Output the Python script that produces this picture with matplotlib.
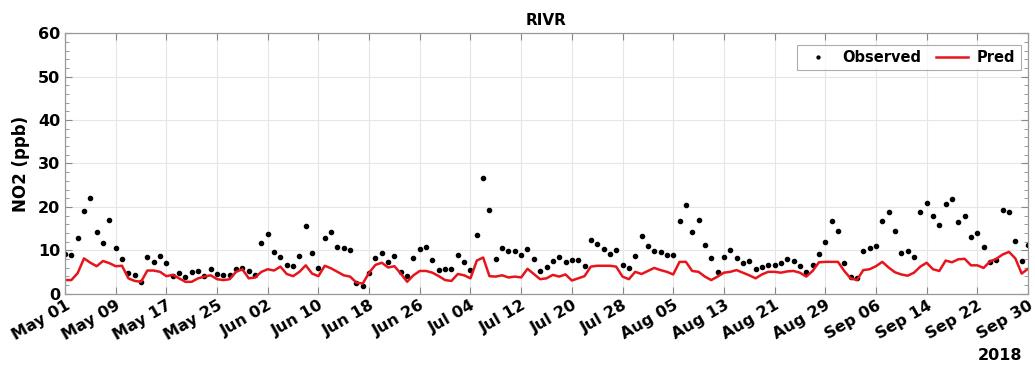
import matplotlib
matplotlib.use("Agg")
import matplotlib.pyplot as plt
import matplotlib.dates as mdates
import matplotlib.ticker as ticker
import numpy as np
import pandas as pd

# daily values, May 01 - Sep 30 2018
dates = pd.date_range("2018-05-01", "2018-09-30", freq="D")
tick_dates = dates[::8]

observed = [
    9.1, 8.9, 12.9, 19.0, 22.1, 14.3, 11.6, 17.0, 10.6, 8.0,
    4.7, 4.2, 2.7, 8.4, 7.3, 8.7, 7.0, 4.0, 4.8, 3.7,
    5.0, 5.1, 4.0, 5.6, 4.6, 4.2, 4.2, 5.6, 6.0, 5.2,
    4.2, 11.7, 13.7, 9.6, 8.4, 6.5, 6.4, 8.7, 15.5, 9.4,
    6.0, 12.7, 14.3, 10.8, 10.4, 10.0, 2.5, 1.8, 4.7, 8.3,
    9.4, 7.3, 8.7, 5.0, 4.0, 8.2, 10.3, 10.8, 7.7, 5.4,
    5.6, 5.6, 8.8, 7.3, 5.4, 13.6, 26.7, 19.2, 7.9, 10.6,
    9.7, 9.7, 8.8, 10.2, 8.0, 5.1, 6.2, 7.5, 8.5, 7.2,
    7.7, 7.7, 6.3, 12.3, 11.4, 10.2, 9.2, 10.0, 6.5, 6.0,
    8.7, 13.3, 11.0, 9.7, 9.5, 9.0, 9.0, 16.7, 20.4, 14.3,
    17.0, 11.1, 8.2, 5.0, 8.5, 10.0, 8.3, 7.0, 7.5, 5.7,
    6.2, 6.6, 6.6, 7.0, 8.0, 7.5, 6.4, 5.0, 6.6, 9.2,
    11.9, 16.8, 14.5, 7.1, 3.9, 3.5, 9.8, 10.6, 10.9, 16.7,
    18.8, 14.5, 9.3, 9.7, 8.5, 18.7, 20.9, 17.9, 15.9, 20.6,
    21.8, 16.5, 18.0, 13.1, 14.0, 10.8, 7.3, 7.8, 19.3, 18.9,
    12.1, 7.5, 11.1,
]

pred = [
    3.1, 3.1, 4.7, 8.1, 7.1, 6.3, 7.5, 7.0, 6.3, 6.4,
    3.5, 2.9, 2.7, 5.3, 5.3, 5.0, 4.0, 4.3, 3.5, 2.7,
    2.7, 3.5, 3.9, 4.2, 3.3, 3.1, 3.3, 5.0, 5.6, 3.5,
    3.7, 5.0, 5.6, 5.3, 6.2, 4.5, 4.0, 5.0, 6.5, 4.6,
    4.0, 6.4, 5.8, 5.0, 4.2, 3.9, 2.5, 2.3, 4.8, 6.6,
    7.1, 6.0, 6.3, 4.6, 2.7, 4.2, 5.2, 5.2, 4.8, 4.0,
    3.1, 2.9, 4.5, 4.2, 3.5, 7.6, 8.3, 4.0, 3.9, 4.2,
    3.7, 3.9, 3.7, 5.7, 4.5, 3.3, 3.5, 4.3, 3.9, 4.4,
    3.0, 3.5, 4.0, 6.2, 6.4, 6.4, 6.4, 6.2, 3.9, 3.3,
    5.0, 4.5, 5.2, 5.9, 5.4, 5.0, 4.4, 7.3, 7.3, 5.2,
    5.0, 3.9, 3.1, 3.9, 4.8, 5.0, 5.4, 4.8, 4.2, 3.5,
    4.4, 5.0, 5.0, 4.8, 5.1, 5.2, 4.8, 3.9, 5.2, 7.2,
    7.3, 7.3, 7.3, 5.2, 3.5, 3.1, 5.4, 5.6, 6.3, 7.3,
    6.0, 4.9, 4.4, 4.1, 4.8, 6.2, 7.1, 5.6, 5.2, 7.6,
    7.2, 7.9, 8.0, 6.5, 6.5, 5.9, 7.4, 8.0, 9.0, 9.6,
    8.1, 4.6, 5.7,
]

title = "RIVR"
ylabel = "NO2 (ppb)"

plt.rcParams["font.family"] = ["DejaVu Sans"]
plt.rcParams["font.weight"] = "bold"

fig = plt.figure(figsize=(10.35, 3.72), dpi=100)
ax = fig.add_axes([65 / 1035, 1 - 293.5 / 372, 963 / 1035, 260 / 372])

ax.plot(dates, observed, linestyle="none", marker="o", markersize=3,
        color="black", label="Observed")
ax.plot(dates, pred, color="#e8141c", linewidth=1.8, label="Pred")

ax.set_ylim(0, 60)
ax.set_xlim(dates[0], dates[-1])
ax.yaxis.set_major_locator(ticker.MultipleLocator(10))
ax.yaxis.set_minor_locator(ticker.MultipleLocator(2))
ax.xaxis.set_major_locator(ticker.FixedLocator(mdates.date2num(tick_dates)))
ax.xaxis.set_major_formatter(mdates.DateFormatter("%b %d"))

ax.grid(True, which="major", color="#e6e6e6", linewidth=0.8)
ax.set_axisbelow(True)
ax.tick_params(which="both", direction="in", top=True, right=True,
               color="#888888", labelsize=11.5)
ax.tick_params(which="major", length=5)
ax.tick_params(which="minor", length=3)
ax.tick_params(axis="x", which="minor", top=False, bottom=False)
ax.tick_params(axis="x", pad=3)
for s in ax.spines.values():
    s.set_color("#999999")
    s.set_linewidth(0.9)

for lab in ax.get_xticklabels():
    lab.set_rotation(30)
    lab.set_ha("right")
    lab.set_rotation_mode("anchor")
    lab.set_fontweight("bold")
for lab in ax.get_yticklabels():
    lab.set_fontweight("bold")

ax.set_title(title, fontsize=11, fontweight="bold", pad=6)
ax.set_ylabel(ylabel, fontsize=12, fontweight="bold", labelpad=6)
fig.text(1000 / 1035, 1 - 356 / 372, "2018", ha="center", va="center",
         fontsize=11.5, fontweight="bold")

leg = ax.legend(loc="upper right", ncol=2, fontsize=10.5, frameon=True,
                fancybox=False, edgecolor="#999999", handlelength=2.2,
                columnspacing=1.0, borderpad=0.35, markerscale=0.7,
                handletextpad=0.6, bbox_to_anchor=(1.0, 0.985))
leg.get_frame().set_linewidth(0.8)
for t in leg.get_texts():
    t.set_fontweight("bold")

fig.savefig("out.png", dpi=100)
